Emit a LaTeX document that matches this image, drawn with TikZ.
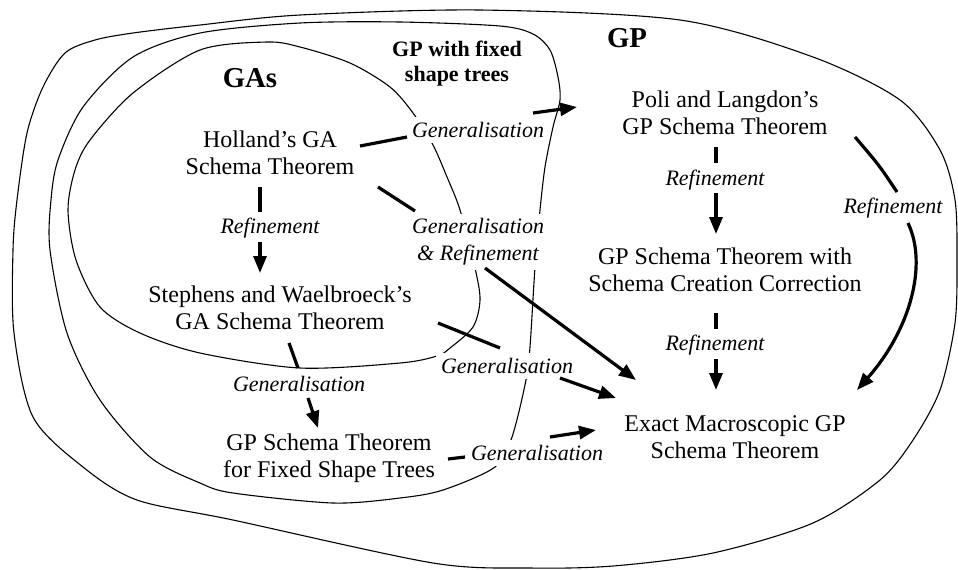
\documentclass[tikz,border=0pt]{standalone}
\usepackage{fontspec}
\setmainfont{Liberation Serif}
\usetikzlibrary{arrows.meta}
\begin{document}
\begin{tikzpicture}[x=0.5pt,y=-0.5pt,
  region/.style={line width=0.55pt},
  thm/.style={align=center,font=\fontsize{12}{13.5}\selectfont,inner sep=0pt},
  lbl/.style={align=center,font=\fontsize{11}{13.5}\selectfont\itshape,fill=white,inner sep=2.5pt},
  ttl/.style={align=center,font=\fontsize{14.4}{16}\selectfont\bfseries,inner sep=0pt},
  subttl/.style={align=center,font=\fontsize{11}{12.5}\selectfont\bfseries,inner sep=0pt},
  conn/.style={line width=1.6pt},
  arr/.style={conn,-{Triangle[length=8.5pt,width=6.5pt]}}
]
\useasboundingbox (0,0) rectangle (958,569);

% outer region: GP
\draw[region] plot[smooth cycle] coordinates {
 (300,15) (480,10) (680,20) (813,57) (900,100) (940,150) (955,200) (957,260)
 (955,323) (940,390) (913,440) (880,480) (813,523) (713,553) (613,566) (530,568)
 (433,563) (233,520) (137,500) (83,467) (33,417) (14,333) (13,250) (17,200)
 (27,133) (43,87) (65,53) (95,40) (133,33) (200,25)};

% middle region: GP with fixed shape trees
\draw[region] plot[smooth cycle] coordinates {
 (200,33) (300,23) (400,22) (500,26) (533,34) (550,50) (558,77) (560,100)
 (553,127) (545,167) (540,210) (535,267) (530,347) (526,380) (512,437)
 (495,467) (443,490) (400,498) (333,503) (233,493) (200,483) (150,457)
 (100,400) (67,333) (50,250) (51,200) (58,160) (83,107) (133,57)};

% inner region: GAs
\draw[region] plot[smooth cycle] coordinates {
 (200,50) (267,42) (300,47) (350,63) (390,87) (413,113) (433,145) (447,177)
 (460,210) (475,268) (480,300) (473,327) (450,348) (437,356) (400,363)
 (300,368) (200,353) (140,333) (100,307) (76,260) (68,210) (75,170) (90,140)
 (133,93)};

% titles
\node[ttl] (gas) at (250,78) {GAs};
\node[ttl] (gp) at (627,38) {GP};
\node[subttl] (fixed) at (457,64) {GP with fixed\\shape trees};

% theorems
\node[thm] (H) at (270,153) {Holland’s GA\\Schema Theorem};
\node[thm] (S) at (280,308) {Stephens and Waelbroeck’s\\GA Schema Theorem};
\node[thm] (F) at (329,458) {GP Schema Theorem\\for Fixed Shape Trees};
\node[thm] (P) at (725,113) {Poli and Langdon’s\\GP Schema Theorem};
\node[thm] (C) at (725,270) {GP Schema Theorem with\\Schema Creation Correction};
\node[thm] (E) at (735,437) {Exact Macroscopic GP\\Schema Theorem};

% labels
\node[lbl] (l1) at (478,130) {Generalisation};
\node[lbl] (l2) at (478,242) {Generalisation\\\&~Refinement};
\node[lbl] (l3) at (270,228) {Refinement};
\node[lbl] (l4) at (507,366) {Generalisation};
\node[lbl] (l5) at (299,384) {Generalisation};
\node[lbl] (l6) at (537,453) {Generalisation};
\node[lbl] (l7) at (715,180) {Refinement};
\node[lbl] (l8) at (715,345) {Refinement};
\node[lbl] (l9) at (893,208) {Refinement};

% connectors
% Holland -> Poli
\draw[conn] ([shift={(90,-7)}]H.center) -- ([shift={(-71,7)}]l1.center);
\draw[arr] ([shift={(55,-17)}]l1.center) -- ([shift={(-148,-6)}]P.center);
% Holland -> Exact
\draw[conn] ([shift={(108,34)}]H.center) -- ([shift={(-63,-31)}]l2.center);
\draw[arr] ([shift={(7,26)}]l2.center) -- ([shift={(-99,-57)}]E.center);
% Holland -> Stephens
\draw[conn] ([shift={(-10,34)}]H.center) -- ([shift={(-10,-16)}]l3.center);
\draw[arr] ([shift={(-10,14)}]l3.center) -- ([shift={(-20,-35)}]S.center);
% Stephens -> fixed shape
\draw[conn] ([shift={(9,35)}]S.center) -- ([shift={(-1,-16)}]l5.center);
\draw[arr] ([shift={(9,14)}]l5.center) -- ([shift={(-11,-30)}]F.center);
% Stephens -> Exact
\draw[conn] ([shift={(158,15)}]S.center) -- ([shift={(-7,-18)}]l4.center);
\draw[arr] ([shift={(53,12)}]l4.center) -- ([shift={(-119,-39)}]E.center);
% fixed shape -> Exact
\draw[conn] ([shift={(119,1)}]F.center) -- ([shift={(-72,4)}]l6.center);
\draw[arr] ([shift={(13,-16)}]l6.center) -- ([shift={(-139,-7)}]E.center);
% Poli -> Correction
\draw[conn] ([shift={(-9,34)}]P.center) -- ([shift={(1,-17)}]l7.center);
\draw[arr] ([shift={(1,13)}]l7.center) -- ([shift={(-9,-36)}]C.center);
% Correction -> Exact
\draw[conn] ([shift={(-9,43)}]C.center) -- ([shift={(1,-16)}]l8.center);
\draw[arr] ([shift={(1,14)}]l8.center) -- ([shift={(-19,-47)}]E.center);
% Poli -> Exact (curved)
\draw[conn] ([shift={(130,24)}]P.center) .. controls ([shift={(-14,-43)}]l9.center) .. ([shift={(4,-16)}]l9.center);
\draw[arr] ([shift={(15,15)}]l9.center) .. controls ([shift={(35,57)}]l9.center) and ([shift={(175,-107)}]E.center) .. ([shift={(122,-47)}]E.center);
\end{tikzpicture}
\end{document}
